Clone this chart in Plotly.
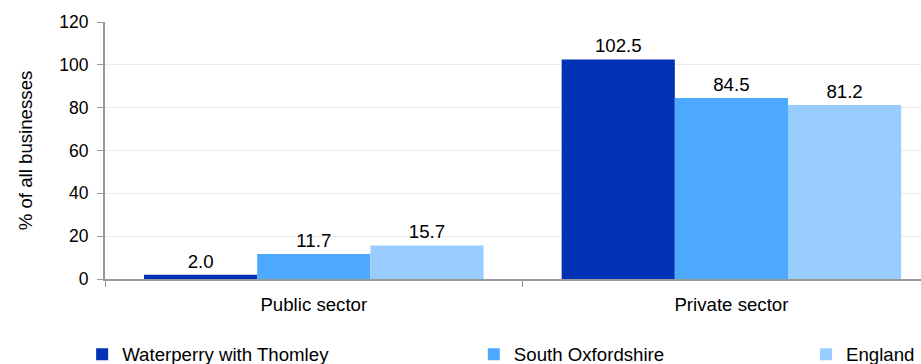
import plotly.graph_objects as go

categories = ["Public sector", "Private sector"]
series_names = ["Waterperry with Thomley", "South Oxfordshire", "England"]
waterperry = [2.0, 102.5]
south_oxon = [11.7, 84.5]
england = [15.7, 81.2]
colors = ["#0131b4", "#4da8ff", "#99ccff"]
y_ticks = [0, 20, 40, 60, 80, 100, 120]

FONT = "Liberation Sans, Arial, sans-serif"
FS = 18.67

fig = go.Figure()
values = [waterperry, south_oxon, england]
legend_ids = ["legend", "legend2", "legend3"]
for name, vals, col, lg in zip(series_names, values, colors, legend_ids):
    fig.add_trace(go.Bar(
        x=categories, y=vals, name=name,
        marker=dict(color=col, line=dict(width=0)),
        text=[f"{v:.1f}" for v in vals], textposition="outside",
        textfont=dict(family=FONT, size=FS, color="#000000"),
        cliponaxis=False, legend=lg,
    ))

leg_common = dict(orientation="h", yanchor="middle", xanchor="left", y=-0.294,
                  font=dict(family=FONT, size=FS, color="#000000"),
                  bgcolor="rgba(0,0,0,0)", itemwidth=30)
fig.update_layout(
    width=921, height=364,
    margin=dict(l=105, r=0, t=22, b=85, autoexpand=False),
    paper_bgcolor="white", plot_bgcolor="white",
    barmode="group", bargap=0.187, bargroupgap=0,
    font=dict(family=FONT, size=FS, color="#000000"),
    legend=dict(x=-0.028, **leg_common),
    legend2=dict(x=0.452, **leg_common),
    legend3=dict(x=0.859, **leg_common),
    xaxis=dict(
        type="category", range=[-0.5, 1.454], tickson="boundaries",
        ticks="outside", ticklen=6, tickcolor="#999999",
        showline=True, linecolor="#999999", linewidth=2,
        showgrid=False, ticklabelstandoff=8, automargin=False,
        tickfont=dict(family=FONT, size=FS, color="#000000"),
    ),
    yaxis=dict(
        range=[0, 120], tickvals=y_ticks, ticks="outside", ticklen=6,
        tickcolor="#999999", showline=True, linecolor="#999999", linewidth=2,
        showgrid=True, gridcolor="#ebebeb", gridwidth=1, zeroline=False,
        ticklabelstandoff=5, automargin=False,
        title=dict(text="% of all businesses", standoff=22,
                   font=dict(family=FONT, size=FS, color="#000000")),
        tickfont=dict(family=FONT, size=17.5, color="#000000"),
    ),
    showlegend=True,
)

fig.write_html(
    "out.html",
    config={"displayModeBar": False},
    post_script="document.body.style.margin='0';document.body.style.overflow='hidden';",
)
